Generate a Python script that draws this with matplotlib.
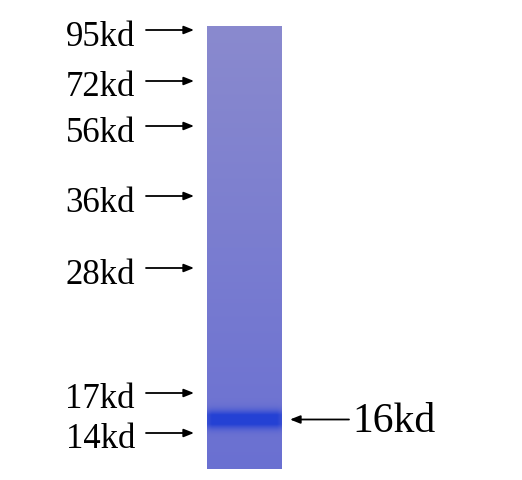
"""SDS-PAGE lane with molecular-weight markers and the 16 kd target band."""

import matplotlib
matplotlib.use("Agg")
import matplotlib.pyplot as plt
import numpy as np
from matplotlib.colors import to_rgb

# ── data ──────────────────────────────────────────────────────────────────────
MARKER_LABELS = ["95kd", "72kd", "56kd", "36kd", "28kd", "17kd", "14kd"]
MARKER_Y = [30, 81, 126, 196, 268, 393, 433]          # arrow rows (image px)
BAND_LABEL = "16kd"
BAND_Y = 419.5
BAND_SIGMA = 6.0

LANE_X = (207, 282)
LANE_Y = (26, 469)
GEL_TOP = "#8a8ace"
GEL_BOTTOM = "#6a70d2"
BAND_COLOR = "#2441d4"

W, H = 522, 480
SERIF = ["Liberation Serif", "DejaVu Serif"]

fig = plt.figure(figsize=(W / 100, H / 100), dpi=100)
ax = fig.add_axes([0, 0, 1, 1])
ax.set_xlim(0, W)
ax.set_ylim(H, 0)
ax.axis("off")

# ── gel lane: vertical gradient + soft band ──────────────────────────────────
rows = np.arange(LANE_Y[0], LANE_Y[1]) + 0.5
cols = np.arange(LANE_X[0], LANE_X[1]) + 0.5
t = (rows - LANE_Y[0]) / (LANE_Y[1] - LANE_Y[0])
top, bot, band = map(np.array, (to_rgb(GEL_TOP), to_rgb(GEL_BOTTOM), to_rgb(BAND_COLOR)))
base = top[None, :] * (1 - t[:, None]) + bot[None, :] * t[:, None]
w = np.clip(1.35 * np.exp(-0.5 * ((rows - BAND_Y) / BAND_SIGMA) ** 2), 0, 1)
edge = np.clip(np.minimum(cols - LANE_X[0], LANE_X[1] - cols) / 5, 0, 1)
wgt = (w[:, None] * (0.7 + 0.3 * edge[None, :]))[..., None]
img = base[:, None, :] * (1 - wgt) + band[None, None, :] * wgt
ax.imshow(img, extent=(LANE_X[0], LANE_X[1], LANE_Y[1], LANE_Y[0]),
          interpolation="bilinear", aspect="auto", zorder=1)

# ── marker labels + arrows ───────────────────────────────────────────────────
arrow_kw = dict(arrowstyle="-|>,head_length=0.6,head_width=0.24",
                color="black", lw=1.3, shrinkA=0, shrinkB=0)
for label, y in zip(MARKER_LABELS, MARKER_Y):
    ax.text(135, y + 15.5, label, ha="right", va="baseline",
            fontsize=25, family=SERIF, color="black")
    ax.annotate("", xy=(194, y), xytext=(146, y), arrowprops=arrow_kw)

# ── target band label ────────────────────────────────────────────────────────
ax.annotate("", xy=(290, BAND_Y), xytext=(349, BAND_Y), arrowprops=arrow_kw)
ax.text(352, BAND_Y + 12.5, BAND_LABEL, ha="left", va="baseline",
        fontsize=30, family=SERIF, color="black")

fig.savefig("out.png", dpi=100)
